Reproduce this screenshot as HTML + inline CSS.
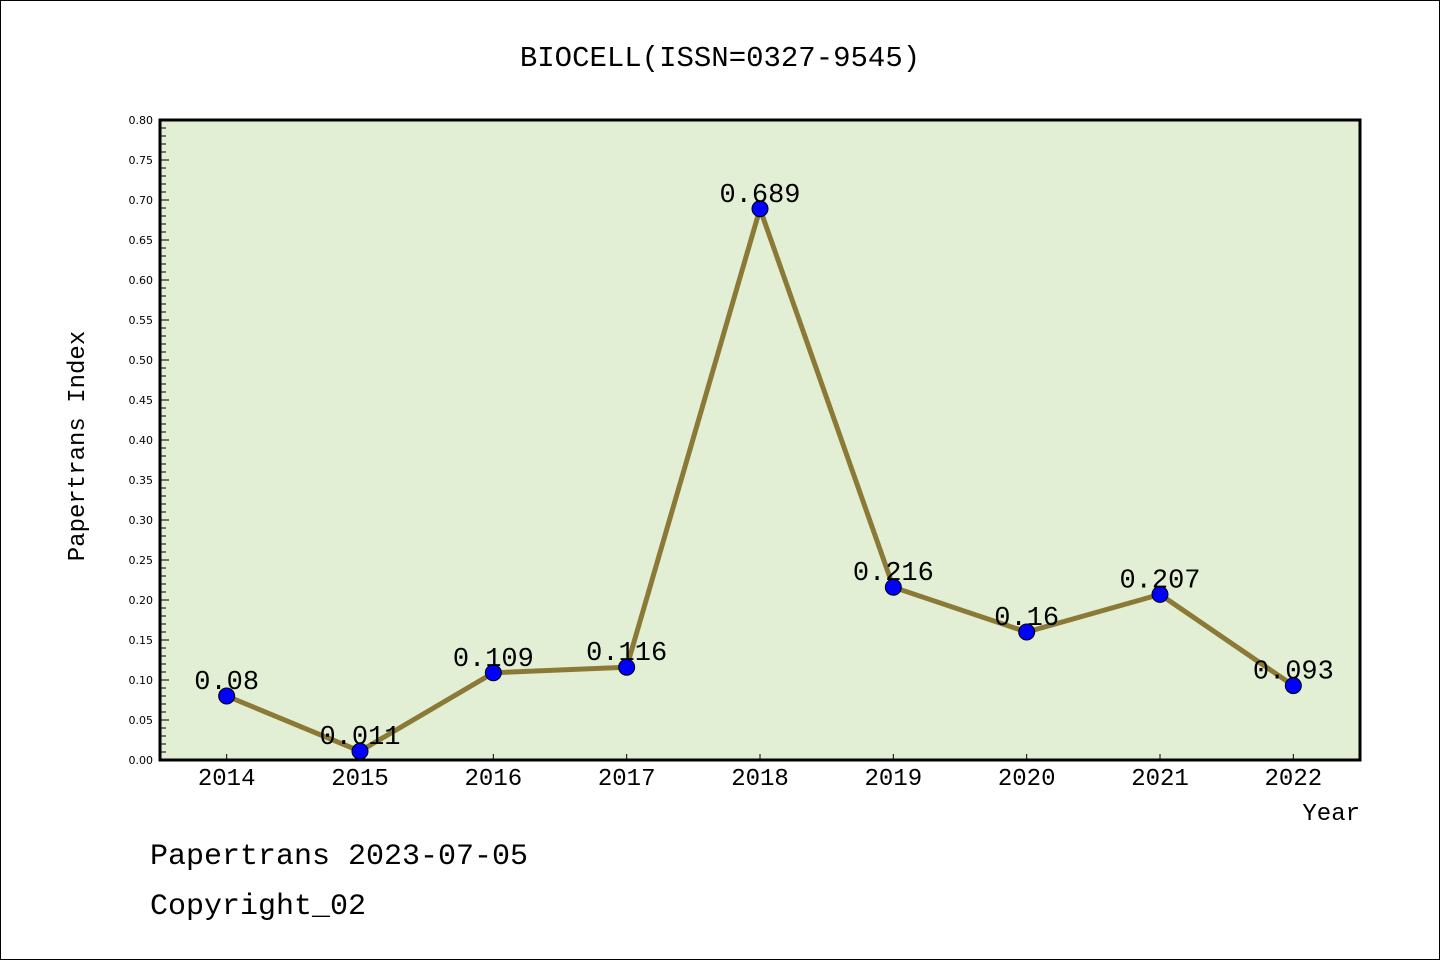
<!DOCTYPE html>
<html><head><meta charset="utf-8"><style>
body{margin:0;background:#fff}
svg text{font-family:"Liberation Mono",monospace}
</style></head><body>
<svg width="1440" height="960" xmlns="http://www.w3.org/2000/svg">
<rect x="0.5" y="0.5" width="1439" height="959" fill="#fff" stroke="#000"/>
<text x="720" y="66" font-size="29" text-anchor="middle">BIOCELL(ISSN=0327-9545)</text>
<rect x="160" y="120" width="1200" height="640" fill="#e2efd5"/>
<g id="yaxis"></g>
<g id="xaxis"></g>
<g id="series"></g>
<rect x="160" y="120" width="1200" height="640" fill="none" stroke="#000" stroke-width="3"/>
<text transform="translate(84,446) rotate(-90)" font-size="24" text-anchor="middle">Papertrans Index</text>
<text x="1360" y="820" font-size="24" text-anchor="end">Year</text>
<text x="150" y="864" font-size="30">Papertrans 2023-07-05</text>
<text x="150" y="914" font-size="30">Copyright_02</text>
</svg>
<script>
const categories=["2014","2015","2016","2017","2018","2019","2020","2021","2022"];
const values=[0.08,0.011,0.109,0.116,0.689,0.216,0.16,0.207,0.093];
const valueLabels=["0.08","0.011","0.109","0.116","0.689","0.216","0.16","0.207","0.093"];
const yTicks=["0.00","0.05","0.10","0.15","0.20","0.25","0.30","0.35","0.40","0.45","0.50","0.55","0.60","0.65","0.70","0.75","0.80"];
const NS="http://www.w3.org/2000/svg";
const L=160,R=1360,T=120,B=760,YMAX=0.8;
const xs=i=>L+(i+0.5)*(R-L)/categories.length;
const ys=v=>B-(v/YMAX)*(B-T);
function mk(tag,attrs,parent){const e=document.createElementNS(NS,tag);for(const k in attrs)e.setAttribute(k,attrs[k]);parent.appendChild(e);return e;}
const ya=document.getElementById('yaxis'),xa=document.getElementById('xaxis'),sg=document.getElementById('series');
for(let k=0;k<=80;k++){const y=ys(k/100);const major=k%5===0;
 const t=mk('line',{x1:L,x2:L+(major?9:6),y1:y,y2:y,stroke:'#000','stroke-width':1},ya);
 
 }
yTicks.forEach(s=>{const y=ys(parseFloat(s));
 const t=mk('text',{x:L-7,y:y+4,'font-size':11,'text-anchor':'end',style:'font-family:"DejaVu Sans",sans-serif'},ya);t.textContent=s;
 
 });
categories.forEach((c,i)=>{const x=xs(i);
 const t=mk('line',{x1:x,x2:x,y1:B,y2:B-6,stroke:'#000','stroke-width':1},xa);
 
 
 const l=mk('text',{x:x,y:B+25,'font-size':24,'text-anchor':'middle'},xa);l.textContent=c;
 
 });
const pl=mk('polyline',{points:values.map((v,i)=>xs(i)+','+ys(v)).join(' '),fill:'none',stroke:'#8b7a35','stroke-width':5},sg);


values.forEach((v,i)=>{
 const c=mk('circle',{cx:xs(i),cy:ys(v),r:8,fill:'#0000ff',stroke:'#000','stroke-width':1},sg);
 
 
 const t=mk('text',{x:xs(i),y:ys(v)-7,'font-size':27,'text-anchor':'middle'},sg);t.textContent=valueLabels[i];
 
 });
</script>
</body></html>
